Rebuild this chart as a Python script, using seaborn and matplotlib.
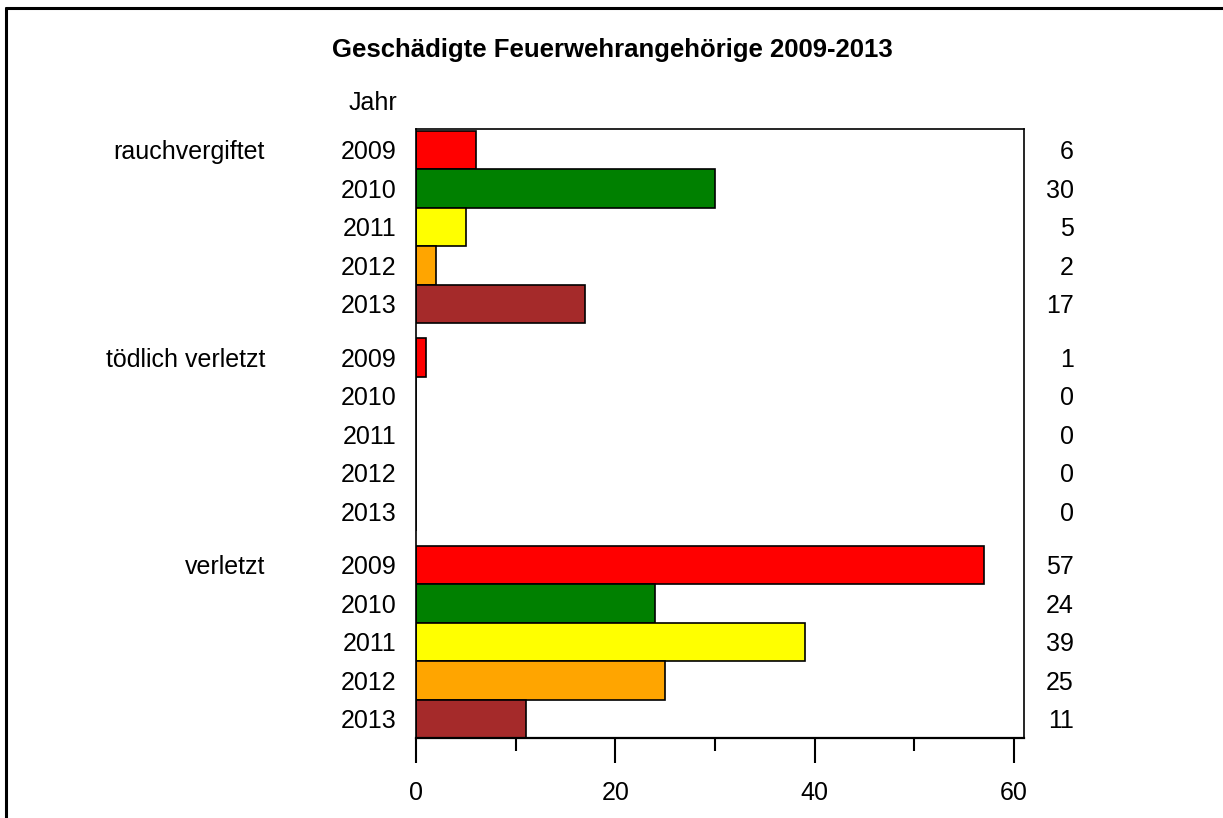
import pandas as pd
import matplotlib.pyplot as plt
from matplotlib.lines import Line2D
from matplotlib.transforms import blended_transform_factory
import seaborn as sns

# data
groups = ["rauchvergiftet", "tödlich verletzt", "verletzt"]
years = ["2009", "2010", "2011", "2012", "2013"]
rauchvergiftet = [6, 30, 5, 2, 17]
toedlich_verletzt = [1, 0, 0, 0, 0]
verletzt = [57, 24, 39, 25, 11]
year_colors = ["#FF0000", "#008000", "#FFFF00", "#FFA500", "#A52A2A"]

gap = 0.39  # extra space between the groups

rows = []
for g, (name, vals) in enumerate(zip(groups, [rauchvergiftet, toedlich_verletzt, verletzt])):
    for i, (yr, v) in enumerate(zip(years, vals)):
        rows.append({"Gruppe": name, "Jahr": yr, "Wert": v, "pos": g * (len(years) + gap) + i})
df = pd.DataFrame(rows)

sns.set_style("white")
plt.rcParams["font.family"] = ["Liberation Sans", "DejaVu Sans"]
plt.rcParams["text.color"] = "black"
plt.rcParams["xtick.color"] = "black"
plt.rcParams["ytick.color"] = "black"

fs = 18

fig = plt.figure(figsize=(12.23, 8.18), dpi=100)
ax = fig.add_axes([416 / 1223, 1 - 738 / 818, (1024 - 416) / 1223, (738 - 128.7) / 818])

sns.barplot(
    data=df, x="Wert", y="pos", hue="Jahr", orient="h", native_scale=True,
    palette=dict(zip(years, year_colors)), saturation=1, dodge=False, width=1.0,
    edgecolor="black", linewidth=1.2, legend=False, ax=ax,
)

ax.set_xlim(0, 61)
ax.set_ylim(df["pos"].max() + 0.5, -0.55)

ax.set_yticks(df["pos"])
ax.set_yticklabels(df["Jahr"])
ax.tick_params(axis="y", length=0, pad=14, labelsize=fs)
ax.set_xticks([0, 20, 40, 60])
ax.set_xticks([10, 30, 50], minor=True)
ax.tick_params(axis="x", which="major", length=18, width=1.5, direction="out",
               labelsize=fs, pad=13, bottom=True)
ax.tick_params(axis="x", which="minor", length=9, width=1.5, direction="out", bottom=True)
ax.set_xlabel("")
ax.set_ylabel("")
for s in ax.spines.values():
    s.set_visible(True)
    s.set_color("black")
    s.set_linewidth(1.2)
ax.spines["bottom"].set_linewidth(1.6)

# values column on the right
for _, r in df.iterrows():
    ax.text(66, r["pos"], str(r["Wert"]), ha="right", va="center_baseline", fontsize=fs, clip_on=False)

# group labels
trans = blended_transform_factory(fig.transFigure, ax.transData)
for name in groups:
    p = df.loc[df["Gruppe"] == name, "pos"].min()
    ax.text(265 / 1223, p, name, transform=trans, ha="right", va="center_baseline", fontsize=fs)

fig.text(397 / 1223, 1 - 100 / 818, "Jahr", ha="right", va="center_baseline", fontsize=fs)
fig.text(612 / 1223, 1 - 47 / 818, "Geschädigte Feuerwehrangehörige 2009-2013",
         ha="center", va="center_baseline", fontsize=18.5, fontweight="bold")

# frame lines at left and top
fig.add_artist(Line2D([6 / 1223, 6 / 1223], [0, 1 - 8 / 818], transform=fig.transFigure, color="black", lw=2.2))
fig.add_artist(Line2D([6 / 1223, 1], [1 - 8 / 818, 1 - 8 / 818], transform=fig.transFigure, color="black", lw=2.2))

plt.savefig("out.png", dpi=100)
